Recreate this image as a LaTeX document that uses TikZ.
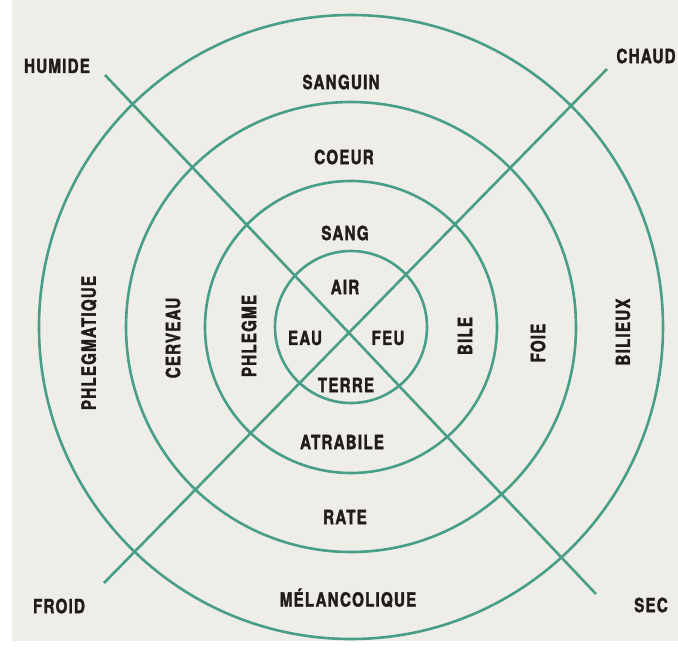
\documentclass[tikz,border=0pt]{standalone}
\usepackage{fontspec}
\setmainfont{TeX Gyre Heros}[FakeStretch=0.78,LetterSpace=6,BoldFeatures={FakeBold=1.6}]
\definecolor{vert}{RGB}{72,158,135}
\definecolor{fond}{RGB}{238,237,231}
\definecolor{encre}{RGB}{32,28,28}
\newcommand{\anneau}[1]{\draw[trait] (centre) circle[radius=#1pt]}
\newcommand{\mot}[3]{\node[lettre] (#1) at (#2) {#3}}
\newcommand{\motv}[3]{\node[lettre,rotate=90] (#1) at (#2) {#3}}
\newcommand{\axe}[2]{\draw[trait] (#1) -- (#2)}

\begin{document}
\begin{tikzpicture}[x=1pt,y=-1pt,
	trait/.style={vert,line width=2.6pt},
	lettre/.style={encre,inner sep=0pt,font=\bfseries\fontsize{19.5}{19.5}\selectfont}]
	\useasboundingbox (0,0) rectangle (678,651);
	\fill[fond] (0,0) rectangle (678,651);
	\fill[white] (0,0) rectangle (12,651);
	\fill[white] (0,641) rectangle (678,651);
	\coordinate (centre) at (351,327);
	\anneau{76};
	\anneau{146};
	\anneau{225};
	\anneau{312};
	\coordinate (hg) at (105,75);
	\coordinate (bd) at (596,594);
	\coordinate (hd) at (607,69);
	\coordinate (bg) at (104,583);
	\axe{hg}{bd};
	\axe{hd}{bg};
	\mot{humide}{57,66}{HUMIDE};
	\mot{chaud}{646,56}{CHAUD};
	\mot{froid}{59,606}{FROID};
	\mot{sec}{651,605}{SEC};
	\mot{sanguin}{341,82}{SANGUIN};
	\mot{coeur}{344,157}{COEUR};
	\mot{sang}{345,233}{SANG};
	\mot{air}{345,287}{AIR};
	\mot{eau}{305,338}{EAU};
	\mot{feu}{388,338}{FEU};
	\mot{terre}{346,385}{TERRE};
	\mot{atrabile}{342,442}{ATRABILE};
	\mot{rate}{345,517}{RATE};
	\mot{melancolique}{348,598}{MÉLANCOLIQUE};
	\motv{phlegmatique}{89,343}{PHLEGMATIQUE};
	\motv{cerveau}{173,338}{CERVEAU};
	\motv{phlegme}{249,336}{PHLEGME};
	\motv{bile}{465,336}{BILE};
	\motv{foie}{538,343}{FOIE};
	\motv{bilieux}{623,332}{BILIEUX};
\end{tikzpicture}
\end{document}
